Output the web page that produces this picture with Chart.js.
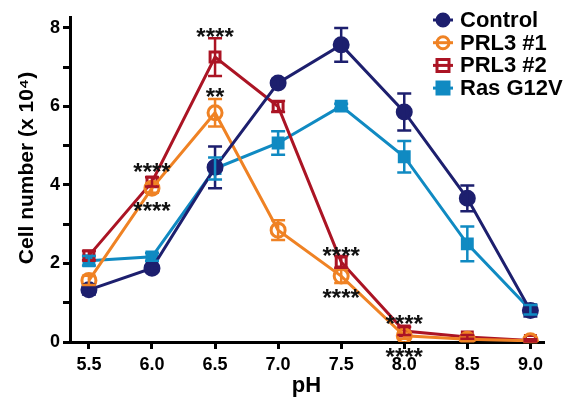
<!DOCTYPE html>
<html><head><meta charset="utf-8">
<script src="https://cdn.jsdelivr.net/npm/chart.js@4"></script>
<style>html,body{margin:0;padding:0;background:#fff}#wrap{width:575px;height:401px;position:relative}</style>
</head><body><div id="wrap"><canvas id="c" width="575" height="401"></canvas></div>
<script>
const pH = [5.5, 6.0, 6.5, 7.0, 7.5, 8.0, 8.5, 9.0];
const xTicks = [5.5, 6.0, 6.5, 7.0, 7.5, 8.0, 8.5, 9.0];
const yTicks = [0, 1, 2, 3, 4, 5, 6, 7, 8];
const seriesNames = ['Control', 'PRL3 #1', 'PRL3 #2', 'Ras G12V'];
const control = [1.33, 1.88, 4.45, 6.6, 7.57, 5.86, 3.66, 0.8];
const prl3_1 = [1.57, 3.92, 5.84, 2.85, 1.68, 0.16, 0.07, 0.03];
const prl3_2 = [2.2, 4.08, 7.26, 6.0, 2.04, 0.28, 0.13, 0.04];
const ras = [2.07, 2.17, 4.42, 5.07, 6.01, 4.72, 2.5, 0.82];
const controlErr = [0.12, 0.07, 0.53, 0.1, 0.43, 0.47, 0.33, 0.15];
const prl3_1Err = [0.12, 0.12, 0.35, 0.25, 0.18, 0.08, 0.05, 0.03];
const prl3_2Err = [0.12, 0.12, 0.48, 0.14, 0.15, 0.1, 0.05, 0.03];
const rasErr = [0.12, 0.1, 0.28, 0.3, 0.06, 0.4, 0.44, 0.12];
const starX = [6.5, 6.5, 6.0, 6.0, 7.5, 7.5, 8.0, 8.0];
const starY = [7.92, 6.39, 4.48, 3.49, 2.34, 1.27, 0.61, -0.23];
const starText = ['****', '**', '****', '****', '****', '****', '****', '****'];

const colors = ['#1d1f6e', '#ef8224', '#ab1424', '#108ac2'];
const styles = ['circle', 'circle', 'rect', 'rect'];
const filled = [true, false, false, true];
const allY = [control, prl3_1, prl3_2, ras];
const allErr = [controlErr, prl3_1Err, prl3_2Err, rasErr];
const FONT = '"Liberation Sans", Arial, sans-serif';

const datasets = allY.map((vals, i) => ({
  label: seriesNames[i],
  data: pH.map((x, j) => ({ x: x, y: vals[j] })),
  borderColor: colors[i],
  backgroundColor: filled[i] ? colors[i] : 'rgba(255,255,255,0)',
  pointBorderColor: colors[i],
  pointBackgroundColor: filled[i] ? colors[i] : 'rgba(255,255,255,0)',
  pointStyle: styles[i],
  pointRadius: styles[i] === 'circle' ? 7 : 7,
  pointBorderWidth: 3,
  borderWidth: 3,
  tension: 0,
  errs: allErr[i],
  order: i
}));

const overlay = {
  id: 'overlay',
  afterDatasetsDraw(chart) {
    const ctx = chart.ctx;
    const xs = chart.scales.x, ys = chart.scales.y;
    ctx.save();
    // error bars
    chart.data.datasets.forEach(ds => {
      ctx.strokeStyle = ds.borderColor;
      ctx.lineWidth = 2.5;
      ds.data.forEach((p, j) => {
        const e = ds.errs[j];
        const px = xs.getPixelForValue(p.x);
        const y1 = ys.getPixelForValue(p.y + e);
        const y2 = ys.getPixelForValue(p.y - e);
        ctx.beginPath();
        ctx.moveTo(px, y1); ctx.lineTo(px, y2);
        ctx.moveTo(px - 7, y1); ctx.lineTo(px + 7, y1);
        ctx.moveTo(px - 7, y2); ctx.lineTo(px + 7, y2);
        ctx.stroke();
      });
    });
    // significance stars
    ctx.fillStyle = '#111';
    ctx.font = 'bold 24px ' + FONT;
    ctx.textAlign = 'center';
    ctx.textBaseline = 'alphabetic';
    starText.forEach((t, k) => {
      const px = xs.getPixelForValue(starX[k]);
      const py = ys.getPixelForValue(starY[k]);
      ctx.fillText(t, px, py + 14);
    });
    // y axis title
    ctx.save();
    ctx.translate(27, 168);
    ctx.rotate(-Math.PI / 2);
    ctx.font = 'bold 21px ' + FONT;
    ctx.textAlign = 'center';
    ctx.textBaseline = 'middle';
    ctx.fillStyle = '#000';
    ctx.fillText('Cell number (x 10\u2074)', 0, 0);
    ctx.restore();
    // legend
    chart.data.datasets.forEach((ds, i) => {
      const ly = 20 + i * 22.7;
      ctx.strokeStyle = ds.borderColor;
      ctx.lineWidth = 3;
      ctx.beginPath(); ctx.moveTo(433, ly); ctx.lineTo(453, ly); ctx.stroke();
      ctx.fillStyle = ds.pointBackgroundColor;
      ctx.beginPath();
      if (ds.pointStyle === 'circle') ctx.arc(443, ly, 6, 0, Math.PI * 2);
      else ctx.rect(437, ly - 6, 12, 12);
      ctx.fill(); ctx.stroke();
      ctx.fillStyle = '#000';
      ctx.font = 'bold 22px ' + FONT;
      ctx.textAlign = 'left';
      ctx.textBaseline = 'middle';
      ctx.fillText(ds.label, 460, ly + 1);
    });
    ctx.restore();
  }
};

new Chart(document.getElementById('c'), {
  type: 'line',
  data: { datasets: datasets },
  plugins: [overlay],
  options: {
    responsive: false,
    animation: false,
    devicePixelRatio: 1,
    layout: { padding: { top: 17, right: 32, left: 0, bottom: 0 } },
    plugins: { legend: { display: false }, tooltip: { enabled: false } },
    scales: {
      x: {
        type: 'linear', min: 5.35, max: 9.1,
        afterFit: s => { s.height = 59; },
        afterBuildTicks: s => { s.ticks = xTicks.map(v => ({ value: v })); },
        border: { color: '#000', width: 3 },
        grid: { drawOnChartArea: false, drawTicks: true, tickLength: 7, color: '#000', lineWidth: 3 },
        ticks: { color: '#000', font: { family: FONT, size: 18, weight: 'bold' }, padding: 5,
                 callback: v => Number(v).toFixed(1), maxRotation: 0, autoSkip: false },
        title: { display: true, text: 'pH', color: '#000', font: { family: FONT, size: 22, weight: 'bold' }, padding: { top: 0, bottom: 2 } }
      },
      y: {
        type: 'linear', min: 0, max: 8.28,
        afterFit: s => { s.width = 70; },
        afterBuildTicks: s => { s.ticks = yTicks.map(v => ({ value: v })); },
        border: { color: '#000', width: 3 },
        grid: { drawOnChartArea: false, drawTicks: true, tickLength: 7, color: '#000', lineWidth: 3 },
        ticks: { color: '#000', font: { family: FONT, size: 18, weight: 'bold' }, padding: 3,
                 callback: v => (v % 2 === 0 ? String(v) : ''), autoSkip: false }
      }
    }
  }
});
</script></body></html>
